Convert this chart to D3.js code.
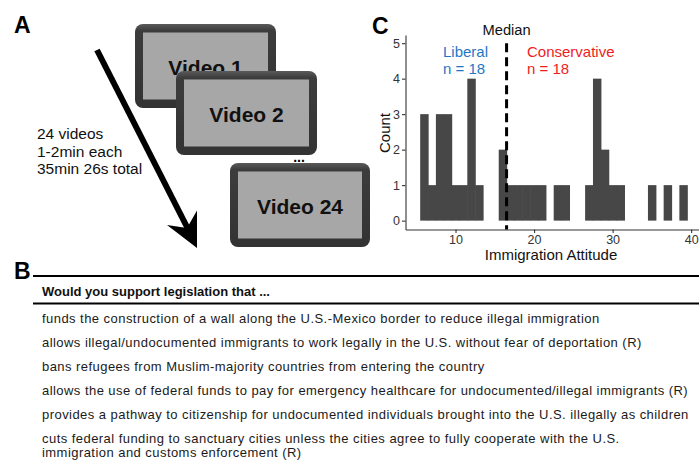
<!DOCTYPE html>
<html>
<head>
<meta charset="utf-8">
<script src="https://cdn.jsdelivr.net/npm/d3@7"></script>
<style>
  html, body { margin: 0; padding: 0; background: #fff; }
  svg { display: block; font-family: "Liberation Sans", Arial, sans-serif; }
</style>
</head>
<body>
<svg id="chart" width="699" height="474"></svg>
<script>
// ---------------- DATA ----------------
const attitudeBins = [6, 7, 8, 9, 10, 11, 12, 13, 16, 17, 18, 19, 20, 21, 23, 24, 27, 28, 29, 30, 31, 35, 37, 39];
const binCounts    = [3, 1, 3, 3, 1, 1, 4, 1, 2, 1, 1, 1, 1, 1, 1, 1, 1, 4, 2, 1, 1, 1, 1, 1];
const medianValue = 16.5;
const xTicks = [10, 20, 30, 40];
const yTicks = [0, 1, 2, 3, 4, 5];
const groupLabels = ["Liberal", "Conservative"];
const groupN = [18, 18];
const videoLabels = ["Video 1", "Video 2", "Video 24"];
const videoNotes = ["24 videos", "1-2min each", "35min 26s total"];
const questionHeader = "Would you support legislation that ...";
const questionItems = [
  ["funds the construction of a wall along the U.S.-Mexico border to reduce illegal immigration"],
  ["allows illegal/undocumented immigrants to work legally in the U.S. without fear of deportation (R)"],
  ["bans refugees from Muslim-majority countries from entering the country"],
  ["allows the use of federal funds to pay for emergency healthcare for undocumented/illegal immigrants (R)"],
  ["provides a pathway to citizenship for undocumented individuals brought into the U.S. illegally as children"],
  ["cuts federal funding to sanctuary cities unless the cities agree to fully cooperate with the U.S.",
   "immigration and customs enforcement (R)"]
];

const svg = d3.select("#chart");
const FONT = "'Liberation Sans', Arial, sans-serif";

// ---------------- PANEL A ----------------
const gA = svg.append("g");
gA.append("text").attr("x", 14).attr("y", 33).text("A")
  .attr("font-size", 23).attr("font-weight", "bold").attr("fill", "#000");

// arrow
gA.append("line").attr("x1", 97).attr("y1", 50).attr("x2", 188).attr("y2", 229)
  .attr("stroke", "#000").attr("stroke-width", 6);
gA.append("path").attr("d", "M197,248 L167,225 L187,228 L197,210.5 Z").attr("fill", "#000");

videoNotes.forEach((t, i) => {
  gA.append("text").attr("x", 37).attr("y", 139 + i * 17.5).text(t)
    .attr("font-size", 15.5).attr("fill", "#111");
});

const boxes = [
  {x: 135, y: 24, w: 141, h: 84},
  {x: 176, y: 71, w: 141, h: 84},
  {x: 230, y: 163, w: 140, h: 84}
];
const defs = svg.append("defs");
const grad = defs.append("linearGradient").attr("id", "frame").attr("x1", 0).attr("y1", 0).attr("x2", 0).attr("y2", 1);
grad.append("stop").attr("offset", "0").attr("stop-color", "#5a5a5a");
grad.append("stop").attr("offset", "0.08").attr("stop-color", "#3c3c3c");
grad.append("stop").attr("offset", "1").attr("stop-color", "#333");

function drawBox(b, label, textY) {
  const g = gA.append("g");
  g.append("rect").attr("x", b.x).attr("y", b.y).attr("width", b.w).attr("height", b.h)
    .attr("rx", 8).attr("fill", "url(#frame)");
  g.append("rect").attr("x", b.x + 8).attr("y", b.y + 8.5).attr("width", b.w - 16).attr("height", b.h - 17)
    .attr("fill", "#a7a7a7");
  g.append("text").attr("x", b.x + b.w / 2).attr("y", textY).text(label)
    .attr("text-anchor", "middle").attr("font-size", 21).attr("font-weight", "bold").attr("fill", "#111");
}
drawBox(boxes[0], videoLabels[0], 75);
drawBox(boxes[1], videoLabels[1], 122);
gA.append("text").attr("x", 299).attr("y", 162).text("...")
  .attr("text-anchor", "middle").attr("font-size", 14).attr("font-weight", "bold");
drawBox(boxes[2], videoLabels[2], 214);

// ---------------- PANEL C ----------------
const gC = svg.append("g");
gC.append("text").attr("x", 372).attr("y", 34).text("C")
  .attr("font-size", 23).attr("font-weight", "bold").attr("fill", "#000");

const x = d3.scaleLinear().domain([3.63, 41.0]).range([405.5, 699]);
const y = d3.scaleLinear().domain([-0.25, 5.23]).range([229.5, 35]);

gC.selectAll("rect.bar").data(attitudeBins).join("rect").attr("class", "bar")
  .attr("x", d => x(d - 0.5))
  .attr("width", d => x(d + 0.5) - x(d - 0.5) + 0.6)
  .attr("y", (d, i) => y(binCounts[i]))
  .attr("height", (d, i) => y(0) - y(binCounts[i]))
  .attr("fill", "#474747");

const yAxis = gC.append("g").attr("transform", `translate(${x.range()[0]},0)`)
  .call(d3.axisLeft(y).tickValues(yTicks).tickSize(3.5).tickSizeOuter(0).tickPadding(2).tickFormat(d3.format("d")));
const xAxis = gC.append("g").attr("transform", `translate(0,${y.range()[0]})`)
  .call(d3.axisBottom(x).tickValues(xTicks).tickSize(3.5).tickSizeOuter(0).tickPadding(2).tickFormat(d3.format("d")));
[yAxis, xAxis].forEach(a => {
  a.select(".domain").attr("stroke", "#333").attr("stroke-width", 1.1);
  a.selectAll(".tick line").attr("stroke", "#333").attr("stroke-width", 1.1);
  a.selectAll(".tick text").attr("font-size", 12.5).attr("fill", "#333").attr("font-family", FONT);
});

gC.append("text").attr("x", 551).attr("y", 260).text("Immigration Attitude")
  .attr("text-anchor", "middle").attr("font-size", 15).attr("fill", "#111");
gC.append("text").attr("transform", "translate(390,133) rotate(-90)").text("Count")
  .attr("text-anchor", "middle").attr("font-size", 15).attr("fill", "#111");

gC.append("line").attr("x1", x(medianValue)).attr("x2", x(medianValue))
  .attr("y1", y(5)).attr("y2", y.range()[0])
  .attr("stroke", "#000").attr("stroke-width", 3).attr("stroke-dasharray", "9,5");
gC.append("text").attr("x", x(medianValue)).attr("y", 35).text("Median")
  .attr("text-anchor", "middle").attr("font-size", 14.7).attr("fill", "#111");

const groupColors = ["#1f77c4", "#ee1d23"];
const groupX = [443, 527];
groupLabels.forEach((g, i) => {
  gC.append("text").attr("x", groupX[i]).attr("y", 57).text(g)
    .attr("font-size", 15).attr("fill", groupColors[i]);
  gC.append("text").attr("x", groupX[i]).attr("y", 74).text("n = " + groupN[i])
    .attr("font-size", 15).attr("fill", groupColors[i]);
});

// ---------------- PANEL B ----------------
const gB = svg.append("g");
gB.append("text").attr("x", 14).attr("y", 279).text("B")
  .attr("font-size", 23).attr("font-weight", "bold").attr("fill", "#000");
gB.append("line").attr("x1", 33).attr("x2", 699).attr("y1", 276).attr("y2", 276)
  .attr("stroke", "#000").attr("stroke-width", 2);
gB.append("text").attr("x", 42).attr("y", 296).text(questionHeader)
  .attr("font-size", 13).attr("font-weight", "bold").attr("fill", "#111");
gB.append("line").attr("x1", 33).attr("x2", 699).attr("y1", 303.5).attr("y2", 303.5)
  .attr("stroke", "#000").attr("stroke-width", 2);

questionItems.forEach((lines, i) => {
  lines.forEach((ln, j) => {
    gB.append("text").attr("x", 42).attr("y", 322.5 + i * 24 + j * 14.5).text(ln)
      .attr("font-size", 13).attr("letter-spacing", 0.45).attr("fill", "#1a1a1a");
  });
});
</script>
</body>
</html>
